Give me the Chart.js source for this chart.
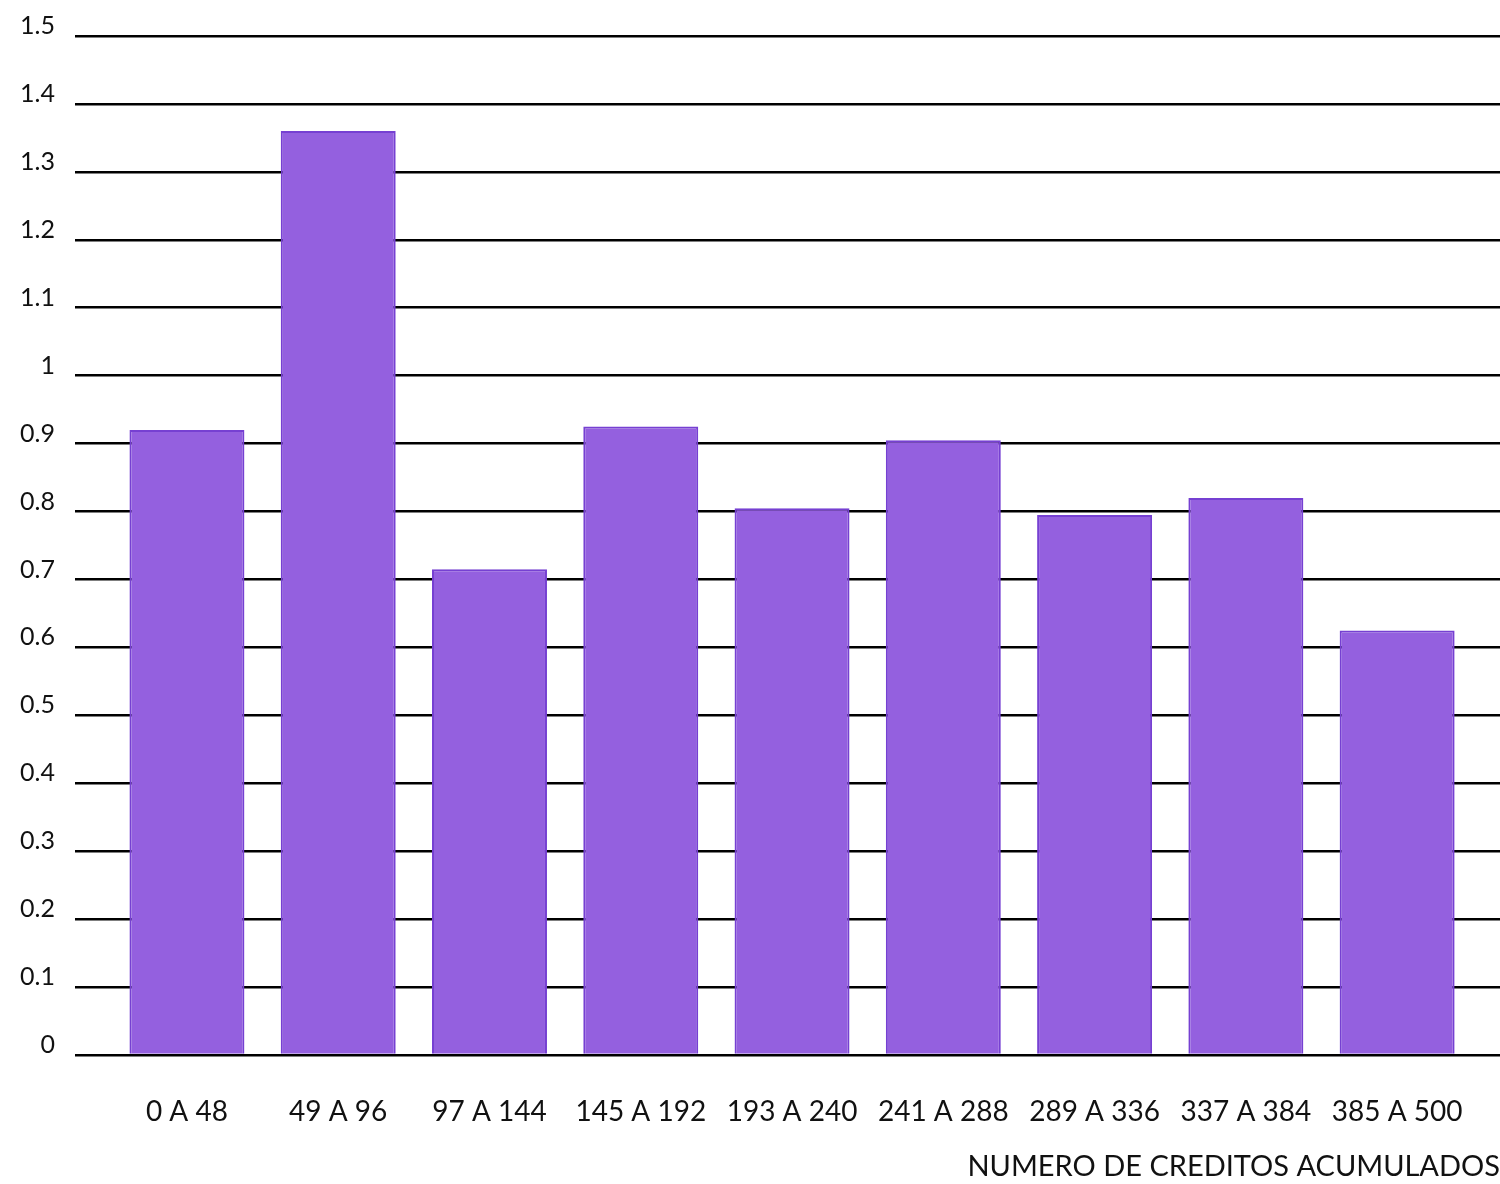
<!DOCTYPE html>
<html>
<head>
<meta charset="utf-8">
<script src="https://cdn.jsdelivr.net/npm/chart.js@4"></script>
<style>
    html, body { margin: 0; padding: 0; background: #ffffff; }
    #wrap { width: 1500px; height: 1184px; }
</style>
</head>
<body>
<div id="wrap"><canvas id="creditChart"></canvas></div>
<script>
// Chart data
const categories = ['0 A 48', '49 A 96', '97 A 144', '145 A 192', '193 A 240', '241 A 288', '289 A 336', '337 A 384', '385 A 500'];
const values = [0.92, 1.36, 0.715, 0.925, 0.805, 0.905, 0.795, 0.82, 0.625];
const yTicks = [0, 0.1, 0.2, 0.3, 0.4, 0.5, 0.6, 0.7, 0.8, 0.9, 1, 1.1, 1.2, 1.3, 1.4, 1.5];
const xTitle = 'NUMERO DE CREDITOS ACUMULADOS';

const FONT = 'Lato, "Open Sans", sans-serif';

// Render Chart
function renderChart() {
    const ctx = document.getElementById('creditChart').getContext('2d');

    new Chart(ctx, {
        type: 'bar',
        data: {
            datasets: [{
                data: values.map((v, i) => ({ x: i, y: v })),
                backgroundColor: '#9460df',
                borderColor: '#7640d2',
                borderWidth: 2,
                barPercentage: 0.76,
                categoryPercentage: 1
            }]
        },
        options: {
            responsive: true,
            maintainAspectRatio: false,
            animation: false,
            layout: {
                padding: { top: 36, right: 0, left: 0, bottom: 0 }
            },
            plugins: {
                legend: { display: false },
                tooltip: { enabled: false }
            },
            scales: {
                x: {
                    type: 'linear',
                    offset: false,
                    min: -0.74,
                    max: 8.68,
                    afterBuildTicks: axis => {
                        axis.ticks = categories.map((_, i) => ({ value: i }));
                    },
                    afterFit: scale => { scale.height = 129; },
                    ticks: {
                        autoSkip: false,
                        maxRotation: 0,
                        padding: 32,
                        color: '#111111',
                        font: { family: FONT, size: 28 },
                        callback: v => categories[v]
                    },
                    grid: { display: false },
                    border: { display: false },
                    title: {
                        display: true,
                        text: xTitle,
                        align: 'end',
                        color: '#111111',
                        font: { family: FONT, size: 29 },
                        padding: { top: 0, bottom: 0 }
                    }
                },
                y: {
                    min: 0,
                    max: 1.5,
                    afterBuildTicks: axis => {
                        axis.ticks = yTicks.map(v => ({ value: v }));
                    },
                    afterFit: scale => { scale.width = 75; },
                    ticks: {
                        padding: 20,
                        labelOffset: -10,
                        color: '#111111',
                        font: { family: FONT, size: 25 },
                        callback: v => String(v)
                    },
                    grid: {
                        color: '#000000',
                        lineWidth: 2.5,
                        drawTicks: false
                    },
                    border: { display: false }
                }
            }
        }
    });
}

document.addEventListener('DOMContentLoaded', renderChart);
</script>
</body>
</html>
